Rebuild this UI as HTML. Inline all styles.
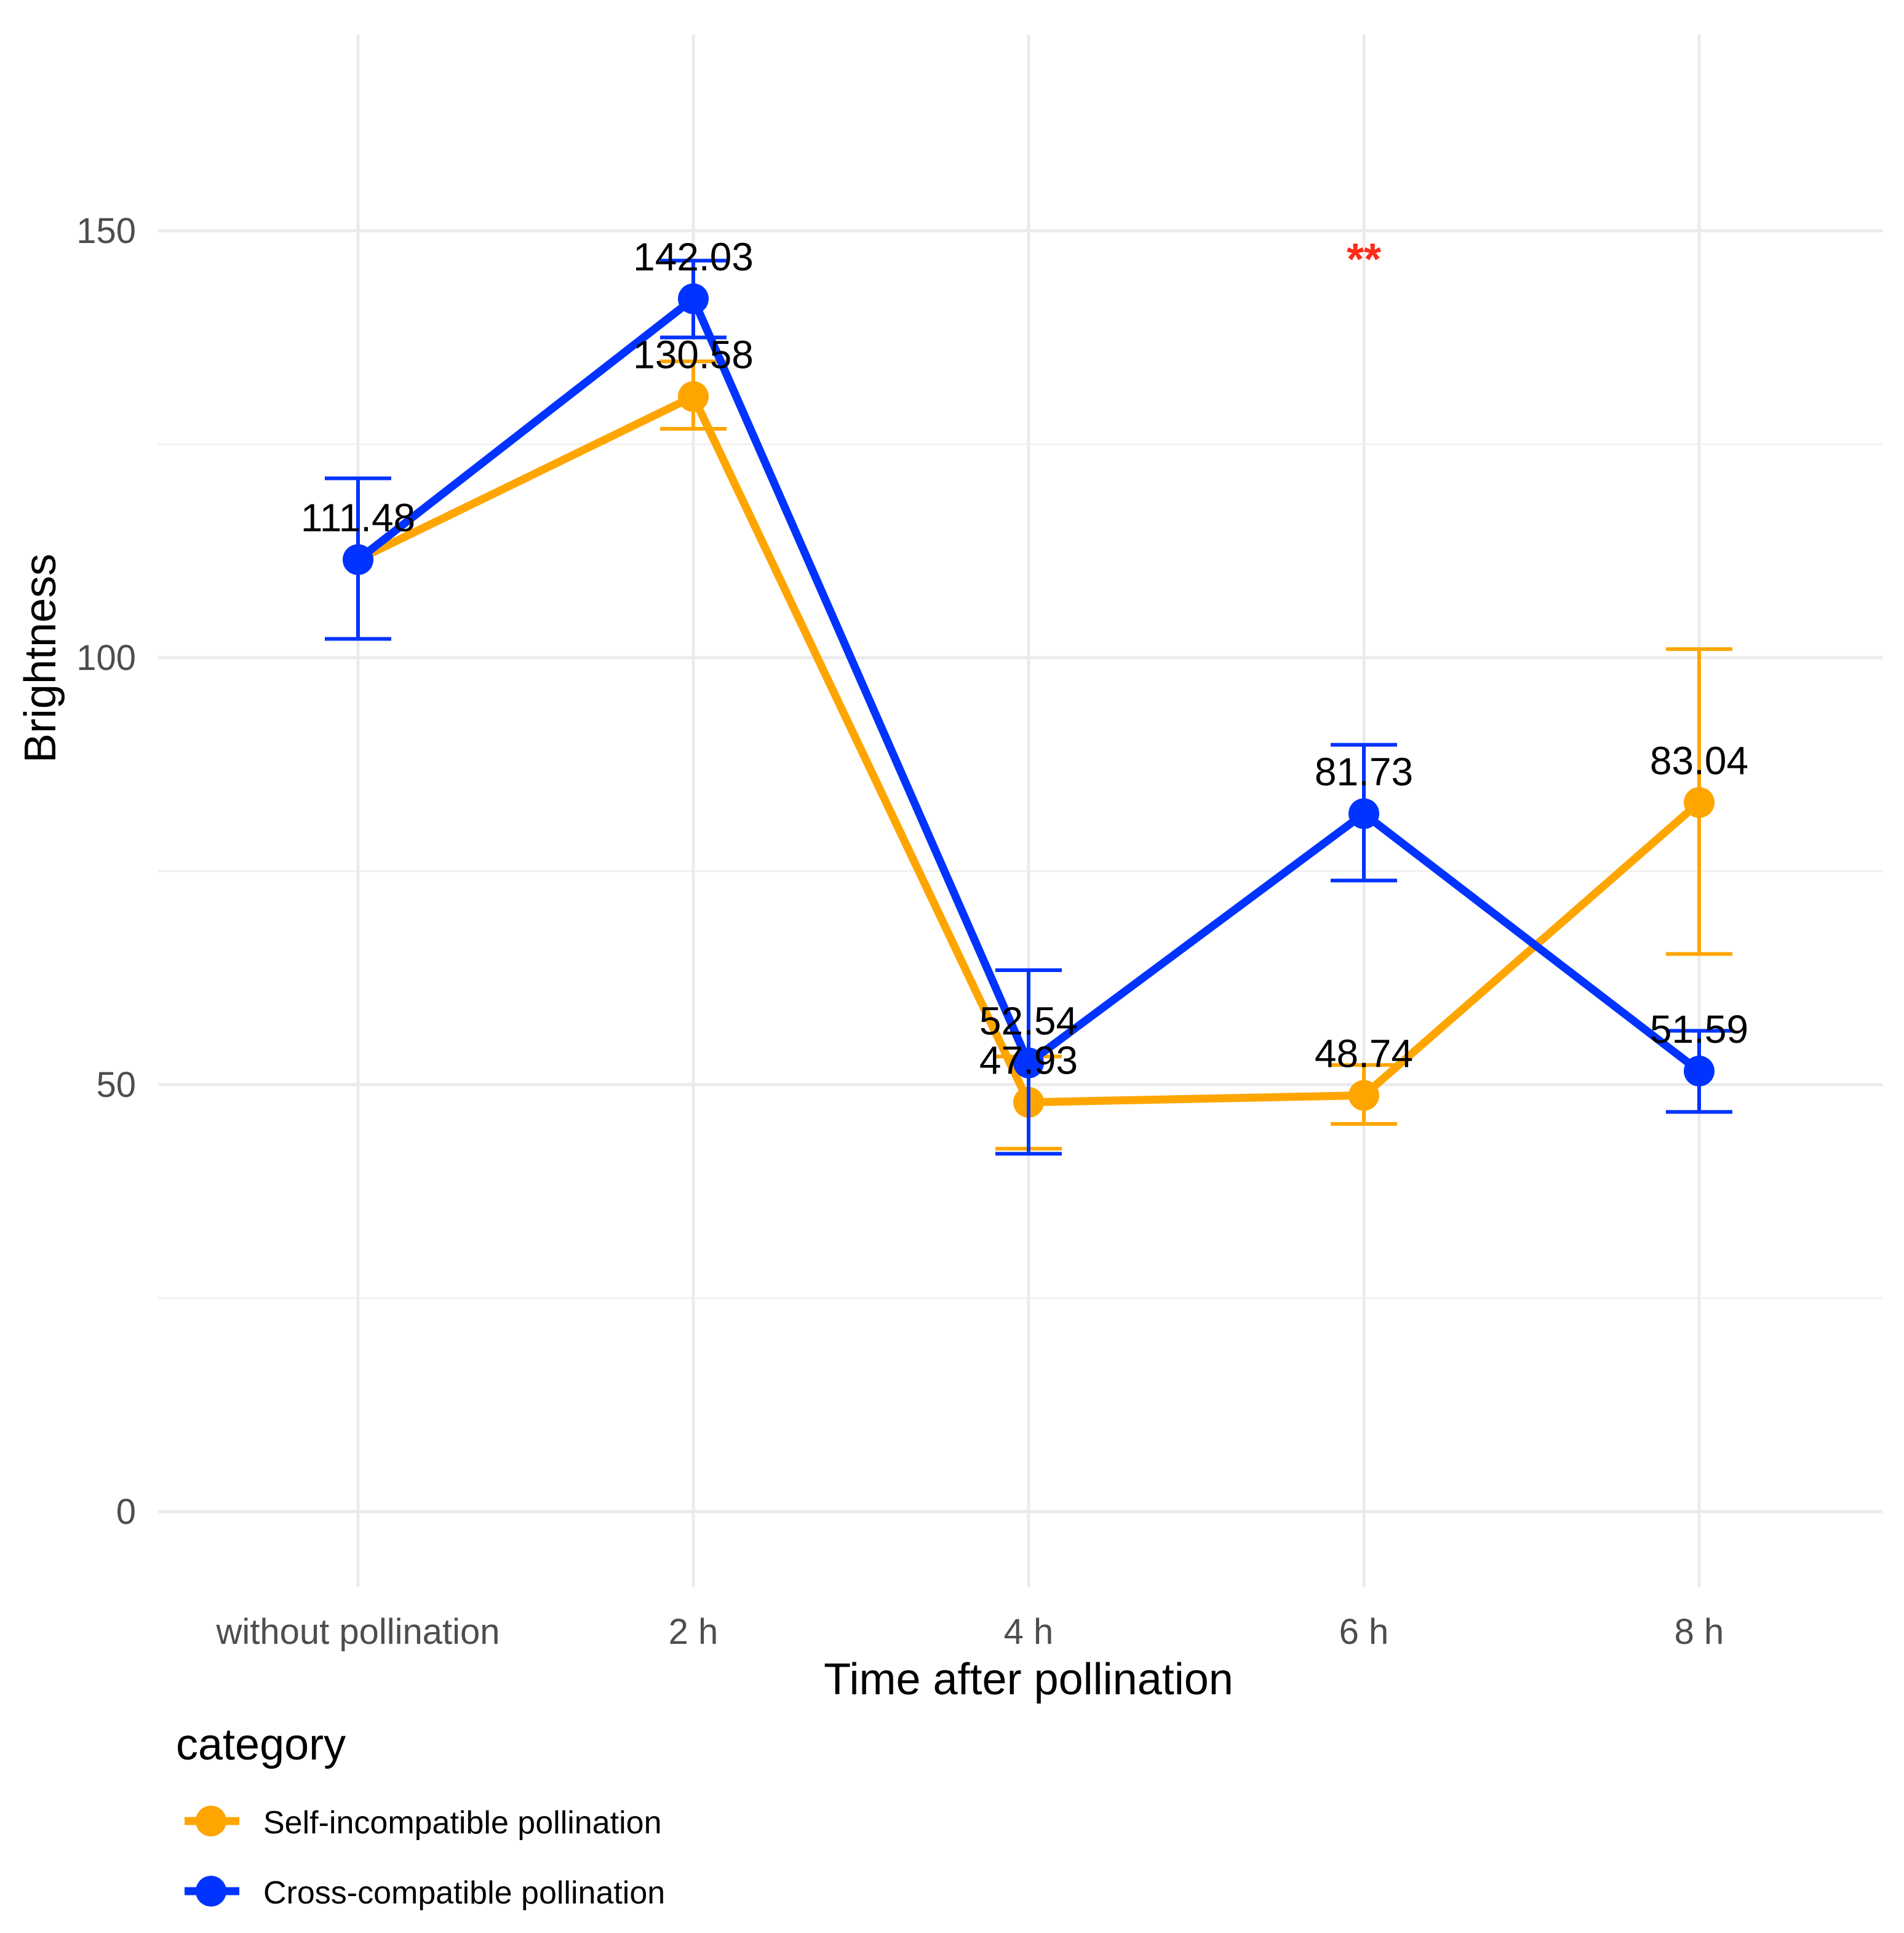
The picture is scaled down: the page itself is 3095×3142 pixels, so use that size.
<!DOCTYPE html>
<html><head><meta charset="utf-8"><style>html,body{margin:0;padding:0;background:#fff}svg{display:block}</style></head>
<body>
<svg id="chart" xmlns="http://www.w3.org/2000/svg" width="3095" height="3142" viewBox="0 0 3095 3142" font-family="Liberation Sans, sans-serif">
<rect x="0" y="0" width="3095" height="3142" fill="#fff"/>
<g id="grid"></g>
<g id="axes"></g>
<g id="marks"></g>
<g id="labels"></g>
<text x="2217" y="446" text-anchor="middle" font-size="72" font-weight="bold" fill="#ff2a1a">**</text>
<text x="1672" y="2754" text-anchor="middle" font-size="72" fill="#000">Time after pollination</text>
<text transform="translate(90,1070) rotate(-90)" text-anchor="middle" font-size="72" fill="#000">Brightness</text>
<g>
<text x="286" y="2860" font-size="72" fill="#000">category</text>
<g>
<line x1="300" y1="2960" x2="389" y2="2960" stroke="#ffa500" stroke-width="13"/>
<circle cx="343" cy="2960" r="25" fill="#ffa500"/>
<text x="428" y="2980" font-size="52" fill="#000">Self-incompatible pollination</text>
</g>
<g>
<line x1="300" y1="3074" x2="389" y2="3074" stroke="#0033ff" stroke-width="13"/>
<circle cx="343" cy="3074" r="25" fill="#0033ff"/>
<text x="428" y="3094" font-size="52" fill="#000">Cross-compatible pollination</text>
</g>
</g>
</svg>
<script>
const categories = ["without pollination","2 h","4 h","6 h","8 h"];
const selfMean = [111.48,130.58,47.93,48.74,83.04];
const selfLow = [102.2,126.8,42.5,45.4,65.3];
const selfHigh = [121,134.7,53.3,52.3,101];
const crossMean = [111.48,142.03,52.54,81.73,51.59];
const crossLow = [102.2,137.5,41.9,73.9,46.8];
const crossHigh = [121,146.5,63.4,89.8,56.3];
const yMajorTicks = [0,50,100,150];
const yMinorTicks = [25,75,125];
const selfLabels = ["","130.58","47.93","48.74","83.04"];
const crossLabels = ["111.48","142.03","52.54","81.73","51.59"];

const NS="http://www.w3.org/2000/svg";
function xs(i){return 582+i*545;}
function ys(v){return 2457-v*13.88;}
function mk(tag,attrs,parent){const e=document.createElementNS(NS,tag);for(const k in attrs)e.setAttribute(k,attrs[k]);parent.appendChild(e);return e;}
const grid=document.getElementById('grid'),axes=document.getElementById('axes'),marks=document.getElementById('marks'),labels=document.getElementById('labels');
yMinorTicks.forEach(v=>{const l=mk('line',{x1:257,x2:3060,y1:ys(v),y2:ys(v),stroke:'#f0f0f0','stroke-width':3},grid);

});
yMajorTicks.forEach(v=>{const l=mk('line',{x1:257,x2:3060,y1:ys(v),y2:ys(v),stroke:'#ebebeb','stroke-width':5},grid);


const t=mk('text',{x:221,y:ys(v)+20,'text-anchor':'end','font-size':58,fill:'#4d4d4d'},axes);t.textContent=String(v);

});
categories.forEach((c,i)=>{const l=mk('line',{x1:xs(i),x2:xs(i),y1:56,y2:2580,stroke:'#ebebeb','stroke-width':5},grid);


const t=mk('text',{x:xs(i),y:2672,'text-anchor':'middle','font-size':58,fill:'#4d4d4d'},axes);t.textContent=c;

});
function series(name,mean,low,high,col){
  const g=mk('g',{},marks);
  
  
  const p=mk('polyline',{points:mean.map((v,i)=>xs(i)+','+ys(v)).join(' '),fill:'none',stroke:col,'stroke-width':13,'stroke-linejoin':'round'},g);
  
  
  mean.forEach((v,i)=>{
    const e=mk('path',{d:`M${xs(i)-54},${ys(high[i])}H${xs(i)+54}M${xs(i)},${ys(high[i])}V${ys(low[i])}M${xs(i)-54},${ys(low[i])}H${xs(i)+54}`,stroke:col,'stroke-width':6,fill:'none'},g);
    
    
    const c=mk('circle',{cx:xs(i),cy:ys(v),r:25,fill:col},g);
    
    
  });
}
series('self',selfMean,selfLow,selfHigh,'#ffa500');
series('cross',crossMean,crossLow,crossHigh,'#0033ff');
function lab(name,mean,txt){mean.forEach((v,i)=>{if(!txt[i])return;const t=mk('text',{x:xs(i),y:ys(v)-46,'text-anchor':'middle','font-size':64,fill:'#000'},labels);t.textContent=txt[i];

});}
lab('self',selfMean,selfLabels);
lab('cross',crossMean,crossLabels);
</script>
</body></html>
